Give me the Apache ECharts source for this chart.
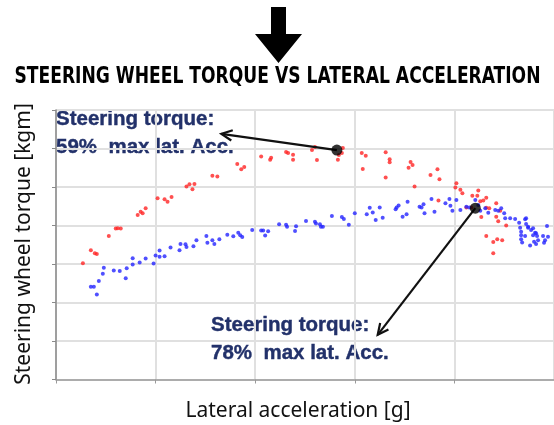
<!DOCTYPE html>
<html><head><meta charset="utf-8">
<script src="https://cdn.jsdelivr.net/npm/echarts@6/dist/echarts.min.js"></script>
<style>html,body{margin:0;padding:0;background:#fff}#c{width:554px;height:425px}</style>
</head><body><div id="c"></div>
<script>
const titleText = 'STEERING WHEEL TORQUE VS LATERAL ACCELERATION';
const xName = 'Lateral acceleration [g]';
const yName = 'Steering wheel torque [kgm]';
const noteUpper = ['Steering torque:', '59%  max lat. Acc.'];
const noteLower = ['Steering torque:', '78%  max lat. Acc.'];

const redPoints = [
 [0.27,3.02],[0.35,3.36],[0.39,3.28],[0.41,3.26],[0.53,3.73],[0.60,3.92],[0.62,3.93],[0.65,3.92],
 [0.82,4.27],[0.85,4.36],[0.87,4.32],[0.90,4.45],[1.02,4.71],[1.09,4.68],[1.12,4.62],[1.16,4.74],
 [1.31,5.01],[1.34,5.07],[1.37,4.94],[1.39,5.08],[1.57,5.29],[1.62,5.27],[1.82,5.60],[1.86,5.46],
 [1.89,5.52],[2.06,5.79],[2.15,5.71],[2.16,5.76],[2.31,5.91],[2.33,5.88],[2.38,5.84],[2.38,5.71],
 [2.57,5.96],[2.60,6.04],[2.62,5.70],[2.84,5.83],[2.83,5.71],[2.88,6.01],[2.87,5.88],[3.07,5.88],
 [3.11,5.81],[3.08,5.47],[3.31,5.90],[3.35,5.72],[3.35,5.64],[3.31,5.25],[3.56,5.65],[3.58,5.57],
 [3.54,5.50],[3.60,5.01],[3.76,5.31],[3.83,5.46],[3.85,5.20],[3.84,4.65],[4.02,5.10],[4.01,4.99],
 [4.06,4.93],[4.08,4.84],[4.12,4.47],[4.18,4.77],[4.24,4.91],[4.23,4.77],[4.26,4.63],[4.29,4.65],
 [4.32,4.72],[4.32,4.46],[4.35,4.45],[4.42,4.58],[4.46,4.38],[4.42,4.23],[4.44,4.11],[4.52,4.00],
 [4.32,3.73],[4.39,3.57],[4.43,3.64],[4.48,3.62],[4.39,3.28],[4.27,4.22],[4.17,4.47]
];
const bluePoints = [
 [0.35,2.41],[0.38,2.41],[0.41,2.21],[0.43,2.56],[0.47,2.75],[0.48,2.90],[0.58,2.83],[0.64,2.82],
 [0.70,2.63],[0.71,2.89],[0.77,2.99],[0.77,3.15],[0.84,3.04],[0.90,3.14],[0.98,3.01],[1.00,3.22],
 [1.04,3.35],[1.04,3.19],[1.09,3.20],[1.15,3.43],[1.24,3.36],[1.25,3.52],[1.30,3.51],[1.31,3.44],
 [1.38,3.46],[1.41,3.62],[1.51,3.73],[1.52,3.55],[1.57,3.62],[1.59,3.52],[1.64,3.64],[1.72,3.76],
 [1.78,3.72],[1.83,3.81],[1.85,3.75],[1.87,3.70],[1.97,3.88],[2.06,3.87],[2.08,3.87],[2.10,3.74],
 [2.13,3.85],[2.24,4.03],[2.31,4.02],[2.32,3.97],[2.41,3.98],[2.40,3.86],[2.51,4.12],[2.60,4.10],
 [2.61,4.05],[2.65,4.03],[2.66,3.97],[2.68,3.97],[2.77,4.25],[2.87,4.22],[2.89,4.17],[2.94,4.02],
 [3.00,4.32],[3.12,4.29],[3.15,4.46],[3.18,4.34],[3.21,4.14],[3.25,4.47],[3.28,4.20],[3.41,4.42],
 [3.42,4.47],[3.44,4.52],[3.48,4.23],[3.52,4.29],[3.53,4.62],[3.65,4.49],[3.67,4.47],[3.69,4.55],
 [3.70,4.32],[3.77,4.69],[3.80,4.36],[3.91,4.58],[3.95,4.69],[3.96,4.51],[3.98,4.38],[4.02,4.66],
 [4.06,4.40],[4.12,4.49],[4.15,4.47],[4.21,4.66],[4.24,4.53],[4.26,4.38],[4.31,4.45],[4.34,4.33],
 [4.41,4.40],[4.44,4.38],[4.47,4.45],[4.50,4.32],[4.51,4.19],[4.56,4.19],[4.61,4.17],[4.65,4.07],
 [4.66,3.94],[4.71,4.16],[4.72,4.19],[4.72,4.04],[4.74,3.97],[4.67,3.84],[4.67,3.75],[4.67,3.64],
 [4.68,3.56],[4.71,3.73],[4.74,3.94],[4.76,3.48],[4.77,3.88],[4.79,3.93],[4.79,3.75],[4.81,3.81],
 [4.82,3.80],[4.83,3.73],[4.80,3.58],[4.82,3.52],[4.84,3.62],[4.89,3.73],[4.91,3.62],[4.90,3.55],
 [4.93,3.99],[4.94,3.71]
];
const keyPoints = [[2.82,5.96],[4.21,4.45]];
const arrowEnds = [[1.66,6.38],[3.23,1.16]];

const navy = '#22316a';
const titleFont = 'bold 23px "DejaVu Sans Condensed", "DejaVu Sans", sans-serif';
const mctx = document.createElement('canvas').getContext('2d');
mctx.font = titleFont;
const titleScale = 526 / mctx.measureText(titleText).width;

const chart = echarts.init(document.getElementById('c'), null, {renderer:'canvas'});
const arrowData = keyPoints.map((p,i)=>[p[0],p[1],arrowEnds[i][0],arrowEnds[i][1]]);

chart.setOption({
  animation:false,
  backgroundColor:'#fff',
  grid:{left:56, top:110, width:500, height:269.5, containLabel:false},
  xAxis:{type:'value', min:0, max:5, interval:1,
    axisLine:{show:true, lineStyle:{color:'#9a9a9a', width:1.5}},
    axisTick:{show:true, length:4, lineStyle:{color:'#9a9a9a'}},
    axisLabel:{show:false},
    splitLine:{show:true, lineStyle:{color:'#e0e0e0', width:2}}},
  yAxis:{type:'value', min:0, max:7, interval:1,
    axisLine:{show:true, lineStyle:{color:'#8a8a8a', width:1.5}},
    axisTick:{show:true, length:4, lineStyle:{color:'#8a8a8a'}},
    axisLabel:{show:false},
    splitLine:{show:true, lineStyle:{color:'#e0e0e0', width:2}}},
  series:[
    {type:'scatter', data:redPoints, symbolSize:4, itemStyle:{color:'#ff2424'}, silent:true},
    {type:'scatter', data:bluePoints, symbolSize:4, itemStyle:{color:'#2424ff'}, silent:true},
    {type:'custom', data:arrowData, silent:true, z:5,
      renderItem(params, api){
        const p0 = api.coord([api.value(0), api.value(1)]);
        const p1 = api.coord([api.value(2), api.value(3)]);
        const ang = Math.atan2(p1[1]-p0[1], p1[0]-p0[0]);
        const L = 12, A = 0.45;
        const h1 = [p1[0]-L*Math.cos(ang-A), p1[1]-L*Math.sin(ang-A)];
        const h2 = [p1[0]-L*Math.cos(ang+A), p1[1]-L*Math.sin(ang+A)];
        return {type:'group', children:[
          {type:'line', shape:{x1:p0[0],y1:p0[1],x2:p1[0],y2:p1[1]}, style:{stroke:'#111',lineWidth:2.2}},
          {type:'polyline', shape:{points:[h1,p1,h2]}, style:{stroke:'#111',lineWidth:2.2,fill:null}}
        ]};
      }},
    {type:'scatter', data:keyPoints, symbolSize:11, itemStyle:{color:'#000'}, z:6, silent:true}
  ],
  graphic:[
    {type:'polygon', shape:{points:[[271,7],[286,7],[286,34],[302,34],[278.5,63],[255,34],[271,34]]}, style:{fill:'#000'}},
    {type:'text', x:277.5, y:77, scaleX:titleScale, originX:0, originY:0, style:{text:titleText, font:titleFont, fill:'#000', align:'center', verticalAlign:'middle'}},
    {type:'text', x:56, y:106, style:{text:noteUpper.join('\n'), font:'bold 20.5px "Liberation Sans", Arial, sans-serif', lineHeight:27.5, fill:navy, stroke:navy, lineWidth:0.4}},
    {type:'text', x:211, y:312, style:{text:noteLower.join('\n'), font:'bold 20.5px "Liberation Sans", Arial, sans-serif', lineHeight:27.5, fill:navy, stroke:navy, lineWidth:0.4}},
    {type:'text', x:298, y:411, style:{text:xName, font:'21px "Noto Sans", sans-serif', fill:'#111', align:'center', verticalAlign:'middle'}},
    {type:'text', x:24, y:244, rotation:Math.PI/2, style:{text:yName, font:'21px "Noto Sans", sans-serif', fill:'#111', align:'center', verticalAlign:'middle'}}
  ]
});
</script></body></html>
